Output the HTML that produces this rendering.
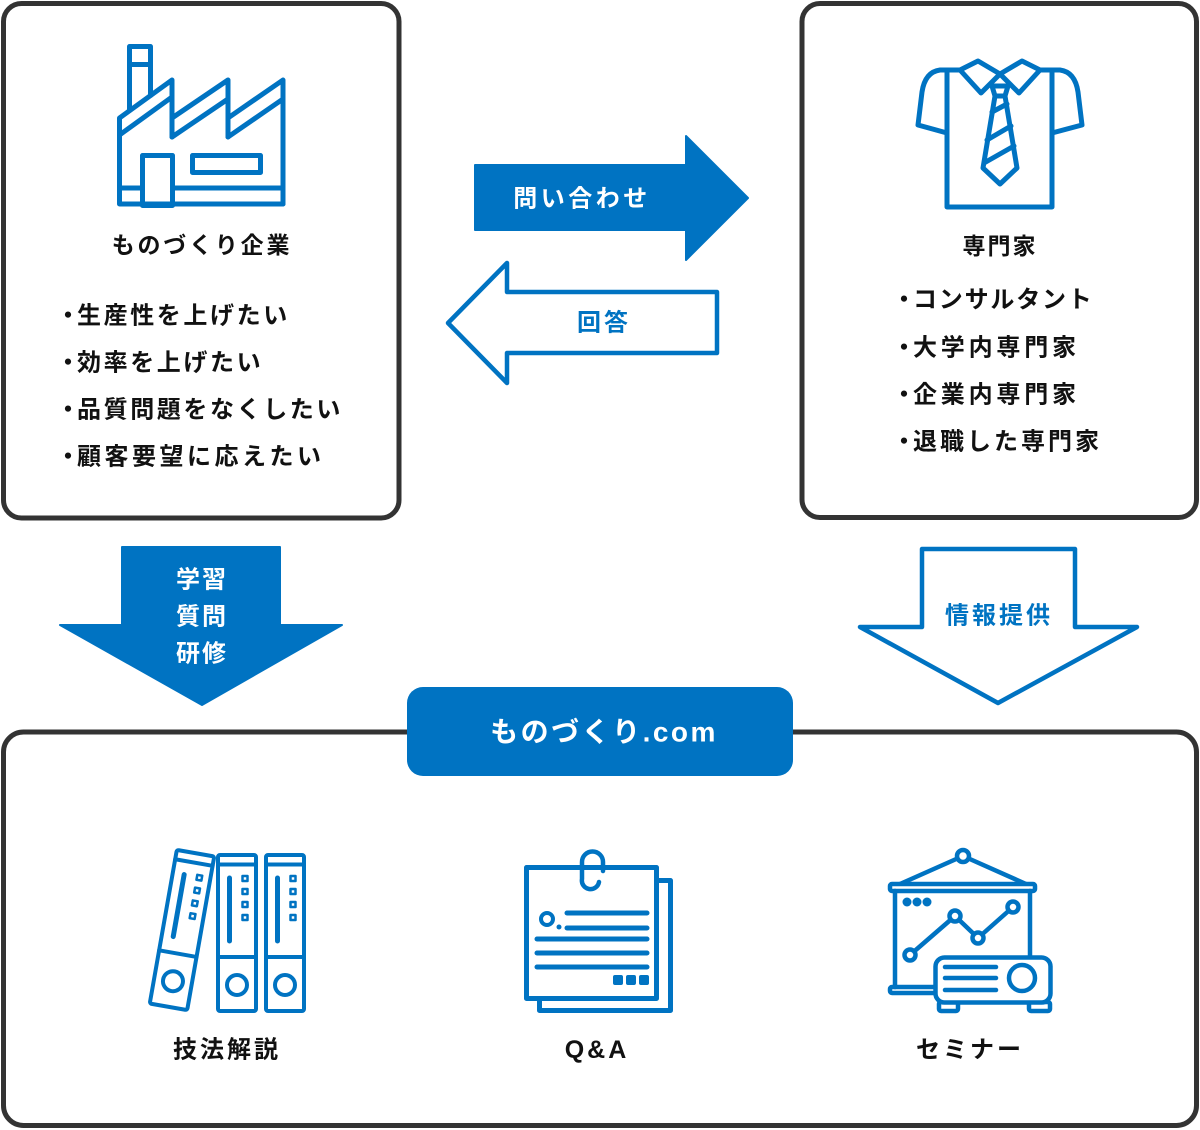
<!DOCTYPE html>
<html><head><meta charset="utf-8"><style>
html,body{margin:0;padding:0;background:#fff;}
svg{display:block;}
text{font-family:"Liberation Sans","Noto Sans CJK JP",sans-serif;font-weight:bold;dominant-baseline:central;}
</style></head><body>
<svg width="1200" height="1130" viewBox="0 0 1200 1130" xmlns="http://www.w3.org/2000/svg">
<!-- boxes -->
<rect x="3.5" y="3.5" width="395.5" height="514.5" rx="18" fill="#fff" stroke="#333" stroke-width="5"/>
<rect x="802" y="3.5" width="394.5" height="514" rx="18" fill="#fff" stroke="#333" stroke-width="5"/>
<rect x="3.5" y="732" width="1193" height="393.5" rx="20" fill="#fff" stroke="#333" stroke-width="5"/>

<!-- factory -->
<g fill="none" stroke="#0073c2" stroke-width="5" stroke-linejoin="round" stroke-linecap="round">
<rect x="129.5" y="46.5" width="21" height="18"/>
<line x1="129.5" y1="64.5" x2="129.5" y2="110.5"/>
<line x1="150.5" y1="64.5" x2="150.5" y2="95.5"/>
<path d="M283 204 L119.5 204 L119.5 118 L172 80 L172 137"/>
<path d="M172 118 L228 80 L228 137"/>
<path d="M228 118 L283 80 L283 204"/>
<path d="M119.5 135 L172 97 M172 137 L228 99 M228 137 L283 99"/>
<line x1="119.5" y1="188" x2="142.5" y2="188"/>
<line x1="172.5" y1="188" x2="283" y2="188"/>
<rect x="142.5" y="155.5" width="30" height="50"/>
<rect x="192.5" y="155.5" width="68" height="17"/>
</g>
<text x="202" y="245" font-size="23" text-anchor="middle" letter-spacing="2.8" fill="#111">ものづくり企業</text>

<g font-size="24" fill="#111" letter-spacing="2.6">
<text x="68" y="316" text-anchor="middle" letter-spacing="0">・</text>
<text x="77" y="316">生産性を上げたい</text>
<text x="68" y="363" text-anchor="middle" letter-spacing="0">・</text>
<text x="77" y="363">効率を上げたい</text>
<text x="68" y="410" text-anchor="middle" letter-spacing="0">・</text>
<text x="77" y="410">品質問題をなくしたい</text>
<text x="68" y="457" text-anchor="middle" letter-spacing="0">・</text>
<text x="77" y="457" letter-spacing="3.5">顧客要望に応えたい</text>
</g>

<!-- shirt -->
<g fill="none" stroke="#0073c2" stroke-width="5" stroke-linejoin="round" stroke-linecap="round">
<path d="M960 70 L940 70 Q925 72 922 92 L918 125 L947 133"/>
<path d="M1040 70 L1060 70 Q1075 72 1078 92 L1082 125 L1052 133"/>
<path d="M947 72 L947 207 L1052 207 L1052 72"/>
<path d="M960 70 L978 61 L1000 74 L981 93 Z"/>
<path d="M1040 70 L1022 61 L1000 74 L1019 93 Z"/>
<path d="M992 86 L1008 86 L1005 96 L995 96 Z"/>
<path d="M995 96 L983 168 L1000 184 L1017 168 L1005 96"/>
<line x1="992" y1="112" x2="1007" y2="104"/>
<line x1="987" y1="140" x2="1011" y2="126"/>
<line x1="984" y1="163" x2="1014" y2="146"/>
</g>
<text x="1000" y="246" font-size="23" text-anchor="middle" letter-spacing="2" fill="#111">専門家</text>

<g font-size="24" fill="#111" letter-spacing="3">
<text x="904" y="300" text-anchor="middle" letter-spacing="0">・</text>
<text x="913" y="300" letter-spacing="1.8">コンサルタント</text>
<text x="904" y="348" text-anchor="middle" letter-spacing="0">・</text>
<text x="913" y="348" letter-spacing="3.8">大学内専門家</text>
<text x="904" y="395" text-anchor="middle" letter-spacing="0">・</text>
<text x="913" y="395" letter-spacing="3.8">企業内専門家</text>
<text x="904" y="442" text-anchor="middle" letter-spacing="0">・</text>
<text x="913" y="442">退職した専門家</text>
</g>

<!-- horizontal arrows -->
<polygon points="475,165 686,165 686,136 748,198 686,260 686,230 475,230" fill="#0073c2" stroke="#0073c2" stroke-width="2" stroke-linejoin="round"/>
<text x="582" y="199" font-size="24" text-anchor="middle" letter-spacing="3.5" fill="#fff">問い合わせ</text>
<polygon points="717,292 507,292 507,263 448,323 507,383 507,353 717,353" fill="#fff" stroke="#0073c2" stroke-width="4.5" stroke-linejoin="round"/>
<text x="604" y="323" font-size="24" text-anchor="middle" letter-spacing="3" fill="#0073c2">回答</text>

<!-- down arrows -->
<polygon points="122,547 280,547 280,625 342,625 202,705 60,625 122,625" fill="#0073c2" stroke="#0073c2" stroke-width="2" stroke-linejoin="round"/>
<g font-size="24" fill="#fff" text-anchor="middle" letter-spacing="2">
<text x="202" y="580">学習</text>
<text x="202" y="617">質問</text>
<text x="202" y="654">研修</text>
</g>
<polygon points="922,549 1075,549 1075,627 1137,627 998,703 860,627 922,627" fill="#fff" stroke="#0073c2" stroke-width="4.5" stroke-linejoin="round"/>
<text x="999" y="616" font-size="24" text-anchor="middle" letter-spacing="3" fill="#0073c2">情報提供</text>

<!-- pill -->
<rect x="407" y="687" width="386" height="89" rx="16" fill="#0073c2"/>
<text x="604" y="732" font-size="28" text-anchor="middle" letter-spacing="2.5" fill="#fff">ものづくり.com</text>

<!-- binders -->
<defs>
<g id="binder" fill="none" stroke="#0073c2" stroke-width="4" stroke-linejoin="round" stroke-linecap="round">
<rect x="218" y="855" width="38" height="156" rx="2" fill="#fff"/>
<line x1="218" y1="864.5" x2="256" y2="864.5"/>
<line x1="218" y1="957" x2="256" y2="957"/>
<circle cx="237" cy="985" r="10"/>
<line x1="229.5" y1="878" x2="229.5" y2="941" stroke-width="5"/>
<rect x="242.5" y="876" width="5" height="5" stroke-width="2.5"/>
<rect x="242.5" y="889" width="5" height="5" stroke-width="2.5"/>
<rect x="242.5" y="902" width="5" height="5" stroke-width="2.5"/>
<rect x="242.5" y="915" width="5" height="5" stroke-width="2.5"/>
</g>
</defs>
<use href="#binder" transform="translate(-55,-3) rotate(10 237 933)"/>
<use href="#binder"/>
<use href="#binder" transform="translate(48,0)"/>
<text x="227" y="1050" font-size="24" text-anchor="middle" letter-spacing="3" fill="#111">技法解説</text>

<!-- Q&A -->
<g fill="none" stroke="#0073c2" stroke-width="5" stroke-linejoin="round" stroke-linecap="round">
<rect x="539.5" y="880.5" width="131" height="130" fill="#fff"/>
<rect x="526.5" y="867.5" width="130" height="131" fill="#fff"/>
<path d="M603 871 L603 862 A10.5 10.5 0 0 0 582 862 L582 879 A8 8 0 0 0 599 882" stroke-width="4.5"/>
<circle cx="547" cy="919" r="6" stroke-width="4"/>
<line x1="567" y1="913" x2="647" y2="913"/>
<line x1="567" y1="928" x2="647" y2="928"/>
<line x1="537" y1="939" x2="647" y2="939"/>
<line x1="537" y1="953" x2="647" y2="953"/>
<line x1="537" y1="967" x2="647" y2="967"/>
</g>
<circle cx="559" cy="927" r="2.5" fill="#0073c2"/>
<rect x="613" y="975" width="10" height="10" rx="2" fill="#0073c2"/>
<rect x="626" y="975" width="10" height="10" rx="2" fill="#0073c2"/>
<rect x="639" y="975" width="10" height="10" rx="2" fill="#0073c2"/>
<text x="597" y="1050" font-size="25" text-anchor="middle" letter-spacing="3" fill="#111">Q&amp;A</text>

<!-- seminar -->
<g fill="none" stroke="#0073c2" stroke-width="4.5" stroke-linejoin="round" stroke-linecap="round">
<path d="M900 884 L963 856 L1026 884"/>
<rect x="890" y="884" width="145" height="7" rx="2" fill="#fff"/>
<line x1="895" y1="891" x2="895" y2="987"/>
<line x1="1030" y1="891" x2="1030" y2="957"/>
<rect x="890" y="987" width="50" height="6" rx="2"/>
<circle cx="963" cy="856" r="6" fill="#fff"/>
<polyline points="910,955 955,916 978,938 1013,907"/>
<circle cx="910" cy="955" r="5.5" fill="#fff"/>
<circle cx="955" cy="916" r="5.5" fill="#fff"/>
<circle cx="978" cy="938" r="5.5" fill="#fff"/>
<circle cx="1013" cy="907" r="5.5" fill="#fff"/>
<rect x="939" y="1002" width="19" height="9" rx="2" fill="#fff"/>
<rect x="1029" y="1002" width="21" height="9" rx="2" fill="#fff"/>
<rect x="935.5" y="957.5" width="115" height="45" rx="9" fill="#fff"/>
<circle cx="1022" cy="978" r="13"/>
<line x1="945" y1="967" x2="996" y2="967"/>
<line x1="945" y1="978" x2="996" y2="978"/>
<line x1="945" y1="990" x2="996" y2="990"/>
</g>
<circle cx="907" cy="902" r="4.5" fill="#0073c2"/>
<circle cx="917" cy="902" r="4.5" fill="#0073c2"/>
<circle cx="927" cy="902" r="4.5" fill="#0073c2"/>
<text x="970" y="1050" font-size="24" text-anchor="middle" letter-spacing="3" fill="#111">セミナー</text>
</svg>
</body></html>
